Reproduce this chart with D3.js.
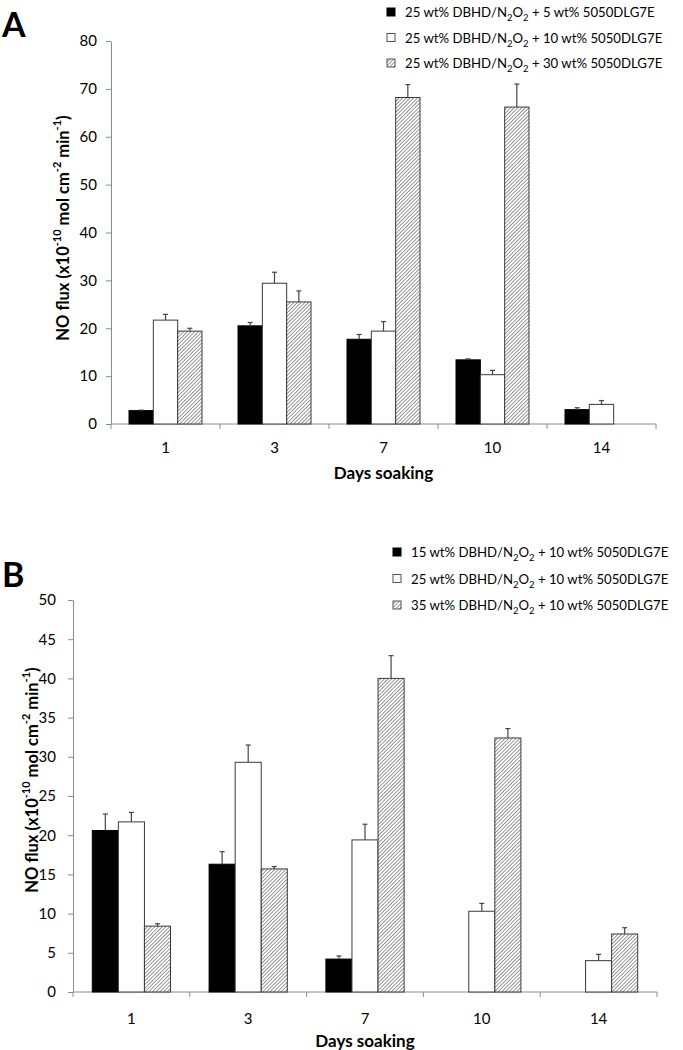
<!DOCTYPE html>
<html lang="en">
<head>
<meta charset="UTF-8">
<title>NO flux vs days soaking</title>
<style>
  body { margin: 0; background: #fff; }
  svg { display: block; font-family: Lato, "Open Sans", sans-serif; }
</style>
</head>
<body>
<svg id="chart" width="683" height="1050"></svg>
<script src="https://cdn.jsdelivr.net/npm/d3@7/dist/d3.min.js"></script>
<script>
// categories (days soaking)
const days = ["1", "3", "7", "10", "14"];

// panel A: 25 wt% DBHD/N2O2 with 5 / 10 / 30 wt% 5050DLG7E
const aBlack   = [2.8, 20.5, 17.7, 13.4, 3.0];
const aWhite   = [21.7, 29.4, 19.4, 10.3, 4.1];
const aHatch   = [19.4, 25.5, 68.2, 66.2, null];
const aBlackEr = [0.1, 0.7, 1.0, 0.2, 0.4];
const aWhiteEr = [1.2, 2.3, 2.0, 0.9, 0.8];
const aHatchEr = [0.6, 2.3, 2.7, 4.8, null];
const aTicks   = [0, 10, 20, 30, 40, 50, 60, 70, 80];
const aLegend  = [["25 wt% DBHD/N", "+ 5 wt% 5050DLG7E"],
                  ["25 wt% DBHD/N", "+ 10 wt% 5050DLG7E"],
                  ["25 wt% DBHD/N", "+ 30 wt% 5050DLG7E"]];

// panel B: 15 / 25 / 35 wt% DBHD/N2O2 with 10 wt% 5050DLG7E
const bBlack   = [20.6, 16.3, 4.2, null, null];
const bWhite   = [21.7, 29.3, 19.4, 10.3, 4.0];
const bHatch   = [8.4, 15.7, 40.0, 32.4, 7.4];
const bBlackEr = [2.1, 1.6, 0.4, null, null];
const bWhiteEr = [1.2, 2.2, 2.0, 1.0, 0.8];
const bHatchEr = [0.3, 0.3, 2.9, 1.2, 0.8];
const bTicks   = [0, 5, 10, 15, 20, 25, 30, 35, 40, 45, 50];
const bLegend  = [["15 wt% DBHD/N", "+ 10 wt% 5050DLG7E"],
                  ["25 wt% DBHD/N", "+ 10 wt% 5050DLG7E"],
                  ["35 wt% DBHD/N", "+ 10 wt% 5050DLG7E"]];

const svg = d3.select("#chart");

// diagonal hatch
const pat = svg.append("defs").append("pattern")
  .attr("id", "hatch")
  .attr("patternUnits", "userSpaceOnUse")
  .attr("width", 2.6).attr("height", 2.6)
  .attr("patternTransform", "rotate(45)");
pat.append("rect").attr("width", 2.6).attr("height", 2.6).attr("fill", "#fff");
pat.append("line").attr("x1", 0).attr("y1", 0).attr("x2", 0).attr("y2", 2.6)
  .attr("stroke", "#444").attr("stroke-width", 1.1);

const fills = ["#000", "#fff", "url(#hatch)"];
const seriesKeys = ["s0", "s1", "s2"];

function panel(opt) {
  const g = svg.append("g");

  const y = d3.scaleLinear().domain([0, opt.max]).range([opt.y0, opt.y1]);
  const x0 = d3.scaleBand().domain(days).range([opt.x0, opt.x1]);
  const x1 = d3.scaleBand().domain(seriesKeys)
    .range([0, x0.bandwidth()]).paddingOuter(0.74);

  // y axis
  const yAxis = g.append("g")
    .attr("transform", `translate(${opt.x0},0)`)
    .call(d3.axisLeft(y).tickValues(opt.ticks).tickSize(5).tickPadding(opt.tickPad).tickSizeOuter(0));
  yAxis.select(".domain").attr("stroke", "#8c8c8c");
  yAxis.selectAll(".tick line").attr("stroke", "#8c8c8c");
  yAxis.selectAll("text").attr("font-size", 15).attr("fill", "#000")
    .attr("font-family", "Lato, sans-serif");

  // x axis: ticks at band boundaries
  const xg = g.append("g").attr("transform", `translate(0,${opt.y0})`);
  xg.append("line").attr("x1", opt.x0).attr("x2", opt.x1)
    .attr("stroke", "#8c8c8c");
  const bounds = days.map(d => x0(d)).concat([opt.x1]);
  xg.selectAll(".bt").data(bounds).join("line")
    .attr("x1", d => d).attr("x2", d => d).attr("y1", 0).attr("y2", 5)
    .attr("stroke", "#8c8c8c");
  xg.selectAll(".lab").data(days).join("text")
    .attr("x", d => x0(d) + x0.bandwidth() / 2)
    .attr("y", opt.labY - opt.y0)
    .attr("text-anchor", "middle").attr("dominant-baseline", "central")
    .attr("font-size", 15).text(d => d);

  // bars + error bars
  opt.series.forEach((vals, si) => {
    const errs = opt.errors[si];
    const key = seriesKeys[si];
    const rows = days.map((d, i) => ({ d, v: vals[i], e: errs[i] }))
      .filter(r => r.v != null);
    g.append("g").selectAll("rect").data(rows).join("rect")
      .attr("x", r => x0(r.d) + x1(key))
      .attr("y", r => y(r.v))
      .attr("width", x1.bandwidth())
      .attr("height", r => y(0) - y(r.v))
      .attr("fill", fills[si])
      .attr("stroke", si === 0 ? "#000" : "#3a3a3a")
      .attr("stroke-width", 1);
    const eg = g.append("g").attr("stroke", "#444").attr("stroke-width", 1.2);
    rows.filter(r => r.e != null).forEach(r => {
      const cx = x0(r.d) + x1(key) + x1.bandwidth() / 2;
      eg.append("line").attr("x1", cx).attr("x2", cx)
        .attr("y1", y(r.v)).attr("y2", y(r.v + r.e));
      eg.append("line").attr("x1", cx - 2.5).attr("x2", cx + 2.5)
        .attr("y1", y(r.v + r.e)).attr("y2", y(r.v + r.e));
    });
  });

  // axis titles
  g.append("text")
    .attr("x", (opt.x0 + opt.x1) / 2).attr("y", opt.xTitleY)
    .attr("text-anchor", "middle").attr("dominant-baseline", "central")
    .attr("font-size", 17).attr("font-weight", "bold").text("Days soaking");

  const yt = g.append("text")
    .attr("transform", `translate(${opt.yTitleX},${opt.yTitleY}) rotate(-90)`)
    .attr("text-anchor", "middle").attr("dominant-baseline", "central")
    .attr("font-size", 16.5).attr("font-weight", "bold");
  yt.append("tspan").text("NO flux (x10");
  yt.append("tspan").attr("font-size", 11).attr("baseline-shift", "super").text("-10");
  yt.append("tspan").text(" mol cm");
  yt.append("tspan").attr("font-size", 11).attr("baseline-shift", "super").text("-2");
  yt.append("tspan").text(" min");
  yt.append("tspan").attr("font-size", 11).attr("baseline-shift", "super").text("-1");
  yt.append("tspan").text(")");

  // panel letter
  g.append("text").attr("x", opt.letterX).attr("y", opt.letterY)
    .attr("font-size", 34).attr("font-weight", "bold")
    .attr("font-family", "Lato, sans-serif").text(opt.letter);

  // legend
  const lg = g.append("g");
  opt.legend.forEach((parts, i) => {
    const ly = opt.legY + i * opt.legStep;
    lg.append("rect")
      .attr("x", opt.legX - 4).attr("y", ly - 4).attr("width", 8).attr("height", 8)
      .attr("fill", fills[i]).attr("stroke", i === 0 ? "#000" : "#555");
    const t = lg.append("text")
      .attr("x", opt.legX + 14).attr("y", ly)
      .attr("dominant-baseline", "central").attr("font-size", 13.2);
    t.append("tspan").text(parts[0]);
    t.append("tspan").attr("font-size", 9.5).attr("baseline-shift", "sub").text("2");
    t.append("tspan").text("O");
    t.append("tspan").attr("font-size", 9.5).attr("baseline-shift", "sub").text("2");
    t.append("tspan").text(" " + parts[1]);
  });
}

panel({
  letter: "A", letterX: 2, letterY: 37,
  max: 80, ticks: aTicks, y0: 424, y1: 41, x0: 111, x1: 656,
  series: [aBlack, aWhite, aHatch], errors: [aBlackEr, aWhiteEr, aHatchEr],
  tickPad: 9, labY: 447, xTitleY: 472, yTitleX: 63, yTitleY: 228,
  legend: aLegend, legX: 391, legY: 12, legStep: 25.5
});

panel({
  letter: "B", letterX: 2, letterY: 587,
  max: 50, ticks: bTicks, y0: 992, y1: 600, x0: 73, x1: 657,
  series: [bBlack, bWhite, bHatch], errors: [bBlackEr, bWhiteEr, bHatchEr],
  tickPad: 12, labY: 1018, xTitleY: 1040, yTitleX: 32, yTitleY: 780,
  legend: bLegend, legX: 397, legY: 552, legStep: 26.5
});
</script>
</body>
</html>
